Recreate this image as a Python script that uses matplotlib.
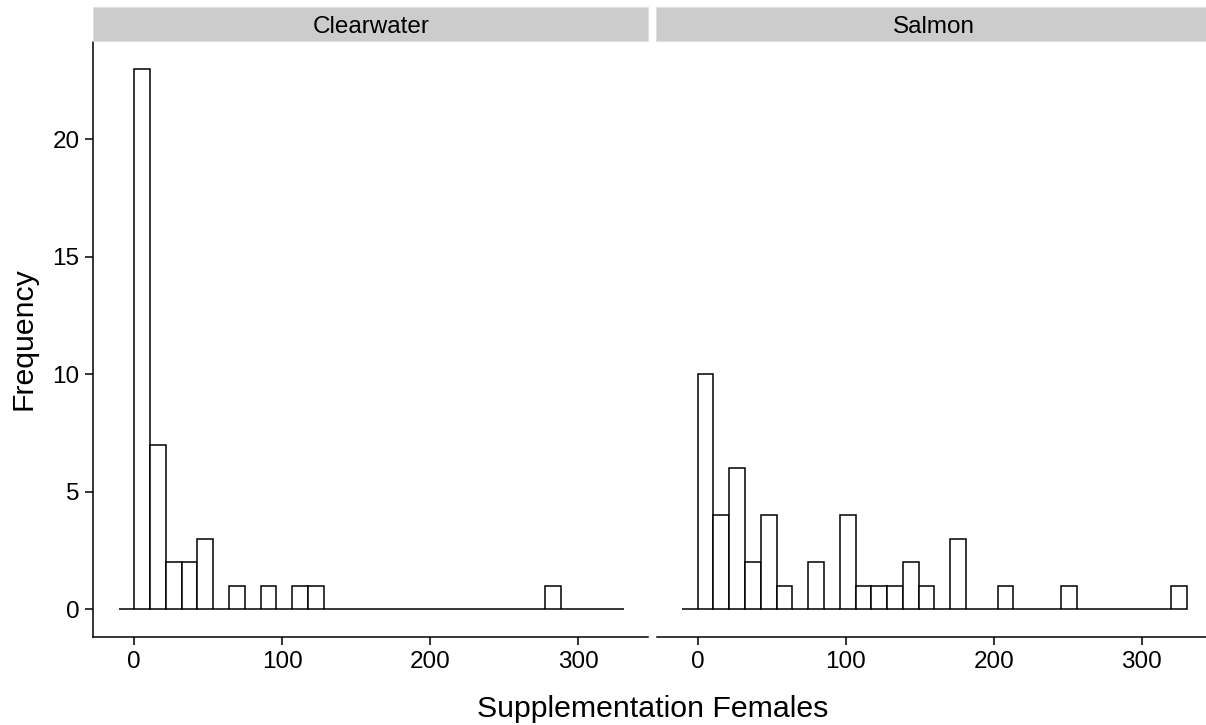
import numpy as np
import matplotlib.pyplot as plt
from matplotlib.patches import Rectangle

plt.rcParams['font.family'] = ['Liberation Sans', 'DejaVu Sans']

# histogram bins: fixed width, first bin starts one width below zero
bin_width = 320 / 30
first_bin = -1

rivers = ['Clearwater', 'Salmon']
clearwater_counts = [0, 23, 7, 2, 2, 3, 0, 1, 0, 1, 0, 1, 1,
                     0, 0, 0, 0, 0, 0, 0, 0, 0, 0, 0, 0, 0, 0,
                     1, 0, 0, 0, 0]
salmon_counts = [0, 10, 4, 6, 2, 4, 1, 0, 2, 0, 4, 1, 1, 1, 2, 1,
                 0, 3, 0, 0, 1, 0, 0, 0, 1, 0, 0, 0, 0, 0, 0, 1]

x_ticks = [0, 100, 200, 300]
y_ticks = [0, 5, 10, 15, 20]

W, H = 1206, 725
fig = plt.figure(figsize=(W / 100, H / 100), dpi=100)

panel_w = 555.0
panel_top, panel_bot = 41.5, 636.5
lefts = [93.3, 656.7]

line_w = 1.1
for i, (river, counts) in enumerate(zip(rivers, [clearwater_counts, salmon_counts])):
    ax = fig.add_axes([lefts[i] / W, 1 - panel_bot / H, panel_w / W,
                       (panel_bot - panel_top) / H])
    edges = (np.arange(len(counts)) + first_bin) * bin_width
    ax.bar(edges, counts, width=bin_width, align='edge', facecolor='white',
           edgecolor='black', linewidth=1.1)
    ax.set_xlim(-27.7, 347.3)
    ax.set_ylim(-1.15, 24.15)
    ax.set_xticks(x_ticks)
    ax.set_yticks(y_ticks)
    for side in ['top', 'right']:
        ax.spines[side].set_visible(False)
    for side in ['left', 'bottom']:
        ax.spines[side].set_linewidth(line_w)
        ax.spines[side].set_color('black')
    ax.tick_params(axis='both', length=6, width=line_w, color='black',
                   labelsize=17.5, labelcolor='black')
    ax.tick_params(axis='x', pad=4.5)
    ax.tick_params(axis='y', pad=4)
    if i == 1:
        ax.spines['left'].set_visible(False)
        ax.tick_params(axis='y', left=False, labelleft=False)

    # facet strip
    strip_left = lefts[i] if i == 0 else 656.3
    strip = Rectangle((strip_left / W, 1 - 41.3 / H), panel_w / W, 34.3 / H,
                      transform=fig.transFigure, facecolor='#cccccc',
                      edgecolor='#dedede', linewidth=0.6)
    fig.add_artist(strip)
    fig.text((lefts[i] + panel_w / 2) / W, 1 - 33 / H, river,
             ha='center', va='baseline', fontsize=17.5)

fig.text(652.5 / W, 1 - 716.7 / H, 'Supplementation Females',
         ha='center', va='baseline', fontsize=21.8)
fig.text(24 / W, 1 - (panel_top + panel_bot) / 2 / H, 'Frequency',
         ha='center', va='center', rotation=90, fontsize=21.8)

fig.savefig('out.png', dpi=100)
